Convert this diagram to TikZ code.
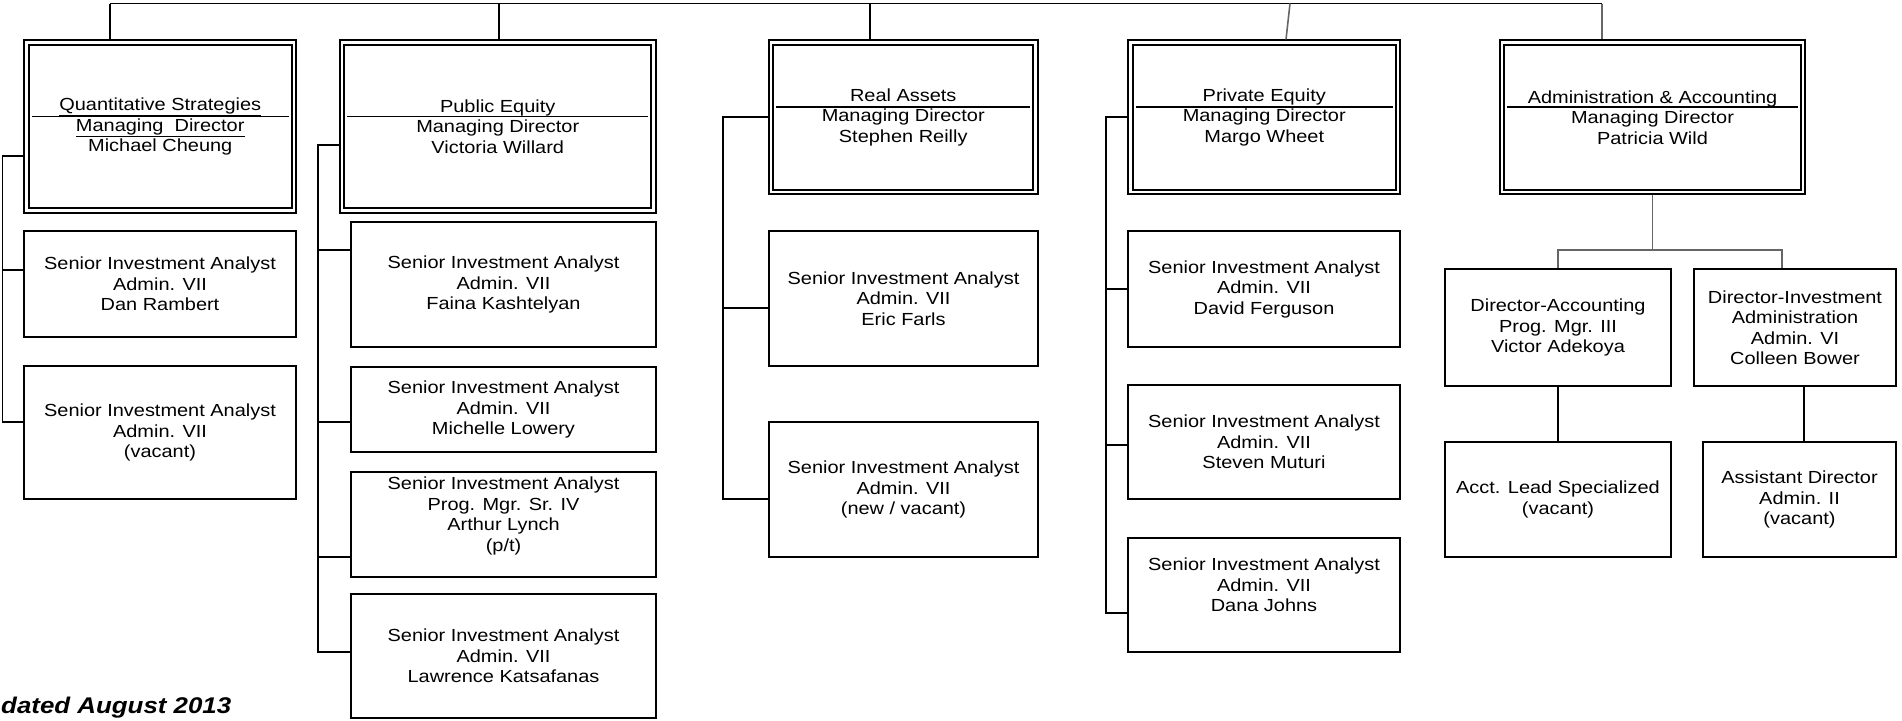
\documentclass[tikz,border=0pt]{standalone}
\usepackage{fontspec}
\setmainfont{Liberation Sans}[FakeStretch=1.14]
\newcommand{\boxfont}{\fontsize{17.5}{20.5}\selectfont}
\newcommand{\datefont}{\fontsize{22.7}{26}\selectfont\bfseries\itshape}
\tikzset{
  mgr/.style={draw, double, line width=1.8pt, double distance=2.6pt, outer sep=3.1pt,
    inner sep=0pt, align=center, font=\boxfont},
  emp/.style={draw, line width=1.8pt, outer sep=0.9pt, inner sep=0pt, align=center, font=\boxfont},
  conn/.style={line width=1.6pt},
  gconn/.style={line width=1.6pt, draw=black!60},
  sepline/.style={line width=1.6pt}
}
\begin{document}
\begin{tikzpicture}[x=1pt,y=-1pt]
\useasboundingbox (0,0) rectangle (1902,720);

% managers
\node[mgr, minimum width=267.5pt, minimum height=168pt] (Q) at (160.25,126.5)
  {\underline{Quantitative Strategies}\\\underline{Managing\ \ Director}\\Michael Cheung};
\node[mgr, minimum width=311.5pt, minimum height=168pt] (PE) at (497.75,126.5)
  {Public Equity\\Managing Director\\Victoria Willard};
\node[mgr, minimum width=264.5pt, minimum height=149.5pt] (RA) at (903.25,117.25)
  {Real Assets\\Managing Director\\Stephen Reilly};
\node[mgr, minimum width=267.5pt, minimum height=149.5pt] (PV) at (1264.25,117.25)
  {Private Equity\\Managing Director\\Margo Wheet};
\node[mgr, minimum width=301pt, minimum height=149.5pt] (AD) at (1652.5,117.25)
  {Administration \& Accounting\\Managing Director\\Patricia Wild};

\foreach \n in {Q,PE,RA,PV,AD}
  \draw[sepline] ([xshift=8.5pt,yshift=10pt]\n.west) -- ([xshift=-8.5pt,yshift=10pt]\n.east);

% staff
\node[emp, minimum width=272pt, minimum height=106pt] (Q1) at (160,284)
  {Senior Investment Analyst\\Admin. VII\\Dan Rambert};
\node[emp, minimum width=272pt, minimum height=133pt] (Q2) at (160,432.5)
  {Senior Investment Analyst\\Admin. VII\\(vacant)};

\node[emp, minimum width=305pt, minimum height=125pt] (PE1) at (503.5,284.5)
  {Senior Investment Analyst\\Admin. VII\\Faina Kashtelyan};
\node[emp, minimum width=305pt, minimum height=85pt] (PE2) at (503.5,409.5)
  {Senior Investment Analyst\\Admin. VII\\Michelle Lowery};
\node[emp, minimum width=305pt, minimum height=105pt] (PE3) at (503.5,524.5)
  {Senior Investment Analyst\\Prog. Mgr. Sr. IV\\Arthur Lynch\\(p/t)\\\mbox{}};
\node[emp, minimum width=305pt, minimum height=124pt] (PE4) at (503.5,656)
  {Senior Investment Analyst\\Admin. VII\\Lawrence Katsafanas};

\node[emp, minimum width=269pt, minimum height=135pt] (RA1) at (903.5,298.5)
  {Senior Investment Analyst\\Admin. VII\\Eric Farls};
\node[emp, minimum width=269pt, minimum height=135pt] (RA2) at (903.5,489.5)
  {Senior Investment Analyst\\Admin. VII\\(new / vacant)};

\node[emp, minimum width=272pt, minimum height=116pt] (PV1) at (1264,289)
  {Senior Investment Analyst\\Admin. VII\\David Ferguson};
\node[emp, minimum width=272pt, minimum height=114pt] (PV2) at (1264,442)
  {Senior Investment Analyst\\Admin. VII\\Steven Muturi};
\node[emp, minimum width=272pt, minimum height=114pt] (PV3) at (1264,595)
  {Senior Investment Analyst\\Admin. VII\\Dana Johns\\\mbox{}};

\node[emp, minimum width=226pt, minimum height=117pt] (DA) at (1558,327.5)
  {Director-Accounting\\Prog. Mgr. III\\Victor Adekoya};
\node[emp, minimum width=202pt, minimum height=117pt] (DI) at (1795,327.5)
  {Director-Investment\\Administration\\Admin. VI\\Colleen Bower};
\node[emp, minimum width=226pt, minimum height=115pt] (AC) at (1558,499.5)
  {Acct. Lead Specialized\\(vacant)};
\node[emp, minimum width=193pt, minimum height=115pt] (AS) at (1799.5,499.5)
  {Assistant Director\\Admin. II\\(vacant)};

% top bus
\coordinate (busL) at (110,3.5);
\coordinate (busR) at (1602,3.5);
\coordinate (dPE) at (499,3.5);
\coordinate (dRA) at (870,3.5);
\coordinate (dPV) at (1290,3.5);
\draw[conn] (busL) -- (busR);
\draw[conn] (busL) -- (busL |- Q.north);
\draw[conn] (dPE) -- (dPE |- PE.north);
\draw[conn] (dRA) -- (dRA |- RA.north);
\draw[gconn] (dPV) -- ([xshift=21.75pt]PV.north);
\draw[gconn] (busR) -- (busR |- AD.north);

% spines
\coordinate (qs) at (2.5,0);
\draw[conn] (Q.west |- 0,156) -- (qs |- 0,156) -- (qs |- 0,422) -- (Q2.west |- 0,422);
\draw[conn] (qs |- 0,270) -- (Q1.west |- 0,270);

\coordinate (ps) at (318,0);
\draw[conn] (PE.west |- 0,145) -- (ps |- 0,145) -- (ps |- 0,652) -- (PE4.west |- 0,652);
\draw[conn] (ps |- 0,250) -- (PE1.west |- 0,250);
\draw[conn] (ps |- 0,422) -- (PE2.west |- 0,422);
\draw[conn] (ps |- 0,557) -- (PE3.west |- 0,557);

\coordinate (rs) at (723,0);
\draw[conn] (RA.west |- 0,117) -- (rs |- 0,117) -- (rs |- 0,499) -- (RA2.west |- 0,499);
\draw[conn] (rs |- 0,308) -- (RA1.west |- 0,308);

\coordinate (vs) at (1106,0);
\draw[conn] (PV.west |- 0,117) -- (vs |- 0,117) -- (vs |- 0,613) -- (PV3.west |- 0,613);
\draw[conn] (vs |- 0,289) -- (PV1.west |- 0,289);
\draw[conn] (vs |- 0,445) -- (PV2.west |- 0,445);

% admin tree
\coordinate (aj) at (1652.5,250);
\draw[gconn] (AD.south) -- (aj);
\draw[gconn] (DA.north) |- (aj);
\draw[gconn] ([xshift=-13pt]DI.north) |- (aj);
\draw[conn] (DA.south) -- (AC.north);
\coordinate (dd) at (1804,0);
\draw[conn] (dd |- DI.south) -- (dd |- AS.north);

% date
\node[anchor=base west, inner sep=0pt, font=\datefont] (dt) at (1,713) {dated August 2013};
\end{tikzpicture}
\end{document}
